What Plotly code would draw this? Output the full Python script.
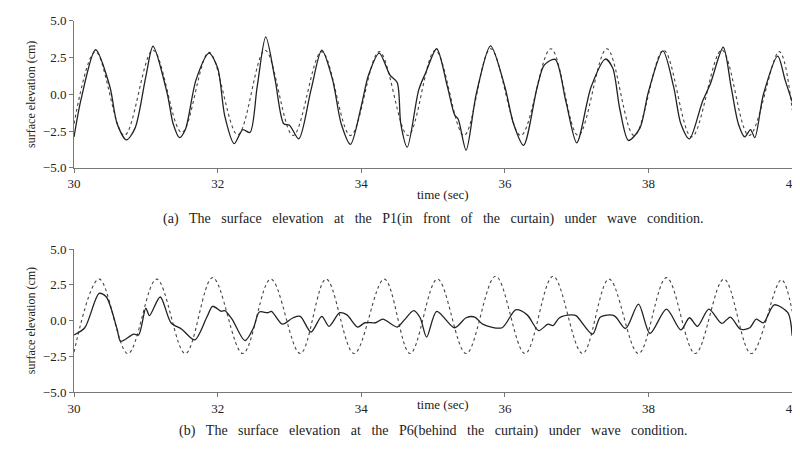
import plotly.graph_objects as go

# (a) P1 measured (solid)
a_t = [30.0,30.1,30.3,30.5,30.6,30.73,30.85,31.0,31.1,31.3,31.38,31.47,31.55,31.7,31.88,32.0,32.1,32.23,32.35,32.45,32.55,32.67,32.8,32.92,33.0,33.13,33.3,33.45,33.6,33.72,33.85,34.0,34.1,34.25,34.4,34.5,34.55,34.64,34.8,34.9,35.05,35.2,35.3,35.35,35.46,35.6,35.8,36.0,36.12,36.26,36.45,36.55,36.7,36.85,37.0,37.2,37.4,37.5,37.6,37.72,37.88,38.0,38.2,38.35,38.45,38.57,38.75,38.86,39.04,39.15,39.25,39.34,39.42,39.48,39.6,39.8,39.9,40.0]
a_v = [-2.9,-0.3,3.03,0.5,-2.0,-3.1,-2.3,1.2,3.27,0.0,-2.0,-2.95,-2.4,1.0,2.8,1.8,-1.5,-3.36,-2.4,-2.6,0.5,3.9,1.0,-2.0,-2.1,-3.03,0.3,3.0,1.0,-2.0,-3.4,-0.8,1.3,2.8,1.3,0.8,-2.0,-3.6,0.3,1.5,3.1,0.5,-1.4,-1.7,-3.8,0.0,3.3,0.5,-2.0,-3.47,0.5,2.0,2.37,-0.5,-3.3,0.5,2.4,1.8,-1.0,-3.14,-2.3,0.2,2.95,0.5,-2.0,-3.03,-0.5,0.7,3.2,0.5,-2.0,-2.9,-2.4,-2.95,0.0,2.6,1.0,-0.5]
# (a) dashed reference
ad_t = [30.0,30.3,30.7,31.1,31.5,31.88,32.28,32.66,33.05,33.45,33.85,34.25,34.65,35.03,35.43,35.8,36.22,36.64,37.02,37.42,37.8,38.21,38.6,39.02,39.4,39.82,40.0]
ad_v = [-2.0,2.9,-2.8,3.0,-2.6,2.85,-2.75,3.0,-2.8,2.9,-2.8,2.9,-2.8,3.0,-2.8,3.1,-2.8,3.1,-2.8,3.1,-2.8,3.0,-2.9,3.0,-2.8,2.9,-1.06]
# (b) P6 measured (solid)
b_t = [30.0,30.15,30.35,30.45,30.6,30.65,30.83,30.9,31.0,31.05,31.2,31.35,31.5,31.68,31.85,31.93,32.05,32.1,32.2,32.38,32.5,32.58,32.7,32.75,32.9,33.05,33.15,33.3,33.45,33.55,33.7,33.8,33.95,34.05,34.2,34.3,34.5,34.6,34.73,34.82,34.91,35.05,35.3,35.46,35.58,35.69,35.96,36.15,36.31,36.47,36.6,36.67,36.76,36.92,36.99,37.22,37.33,37.52,37.68,37.86,38.02,38.25,38.45,38.57,38.68,38.84,39.02,39.14,39.28,39.41,39.5,39.6,39.75,39.94,40.0]
b_v = [-1.0,-0.5,1.9,1.65,-0.6,-1.45,-0.95,-1.0,0.87,0.35,1.65,-0.15,-0.6,-1.35,0.25,1.0,0.65,0.7,0.1,-1.4,-0.5,0.6,0.55,0.65,-0.25,0.2,0.3,-0.8,0.3,-0.4,0.55,0.4,-0.45,-0.15,-0.15,0.1,-0.45,0.05,0.7,0.2,-1.15,0.65,-0.5,0.2,0.25,-0.25,-0.5,0.75,0.4,-0.7,-0.25,-0.35,0.2,0.4,0.35,-0.95,0.25,0.35,-0.55,1.15,-0.9,0.8,-0.65,0.2,-0.4,0.8,-0.2,0.25,-0.6,-0.5,0.1,-0.15,1.1,0.55,-1.05]
# (b) dashed reference
bd_t = [30.0,30.35,30.75,31.15,31.55,31.93,32.35,32.74,33.15,33.51,33.9,34.32,34.68,35.06,35.46,35.87,36.28,36.67,37.08,37.45,37.86,38.25,38.65,39.05,39.43,39.85,40.0]
bd_v = [-2.2,2.9,-2.3,2.9,-2.3,3.0,-2.3,2.9,-2.3,2.9,-2.3,2.9,-2.3,2.9,-2.3,3.1,-2.3,3.1,-2.3,2.9,-2.3,3.0,-2.3,2.9,-2.3,2.85,0.65]

yticks = [-5.0,-2.5,0.0,2.5,5.0]
xticks = [30,32,34,36,38,40]
captions = ["(a) The surface elevation at the P1(in front of the curtain) under wave condition.",
            "(b) The surface elevation at the P6(behind the curtain) under wave condition."]

F = "Liberation Serif, Times New Roman, serif"
fig = go.Figure()
solid = dict(color="#222", width=1.3)
dash = dict(color="#444", width=1.1, dash="dot")
fig.add_trace(go.Scatter(x=ad_t, y=ad_v, mode="lines", line=dict(shape="spline", **dash), xaxis="x", yaxis="y"))
fig.add_trace(go.Scatter(x=a_t, y=a_v, mode="lines", line=dict(shape="spline", smoothing=0.8, **solid), xaxis="x", yaxis="y"))
fig.add_trace(go.Scatter(x=bd_t, y=bd_v, mode="lines", line=dict(shape="spline", **dash), xaxis="x2", yaxis="y2"))
fig.add_trace(go.Scatter(x=b_t, y=b_v, mode="lines", line=dict(shape="spline", smoothing=0.8, **solid), xaxis="x2", yaxis="y2"))

xd = [60/800, 790/800]
ax_common = dict(showgrid=False, zeroline=False, showline=True, linecolor="#777", ticks="outside",
                 ticklen=4, tickcolor="#777", tickfont=dict(family=F, size=13, color="#222"))
fig.update_layout(
    width=800, height=456, margin=dict(l=0, r=0, t=0, b=0),
    font=dict(family=F),
    paper_bgcolor="white", plot_bgcolor="white", showlegend=False,
    xaxis=dict(domain=xd, anchor="y", range=[30, 40], tickvals=xticks, **ax_common),
    yaxis=dict(domain=[1-158/456, 1-6/456], anchor="x", range=[-5, 5], tickvals=yticks, tickformat=".1f",
               title=dict(text="surface elevation (cm)", font=dict(family=F, size=12, color="#222"), standoff=4), **ax_common),
    xaxis2=dict(domain=xd, anchor="y2", range=[30, 40], tickvals=xticks, **ax_common),
    yaxis2=dict(domain=[1-390/456, 1-242/456], anchor="x2", range=[-5, 5], tickvals=yticks, tickformat=".1f",
                title=dict(text="surface elevation (cm)", font=dict(family=F, size=12, color="#222"), standoff=4), **ax_common),
)
for yy, txt in [(186, "time (sec)"), (413, "time (sec)")]:
    fig.add_annotation(text=txt, x=435/800, y=1-yy/456, xref="paper", yref="paper", showarrow=False,
                       font=dict(family=F, size=13, color="#222"))
for yy, txt in [(211, captions[0]), (440, captions[1])]:
    fig.add_annotation(text=txt.replace(" ", "\u00a0\u00a0\u00a0"), x=425/800, y=1-yy/456, xref="paper", yref="paper",
                       showarrow=False, font=dict(family=F, size=14, color="#222"))
fig.write_html("out.html")
